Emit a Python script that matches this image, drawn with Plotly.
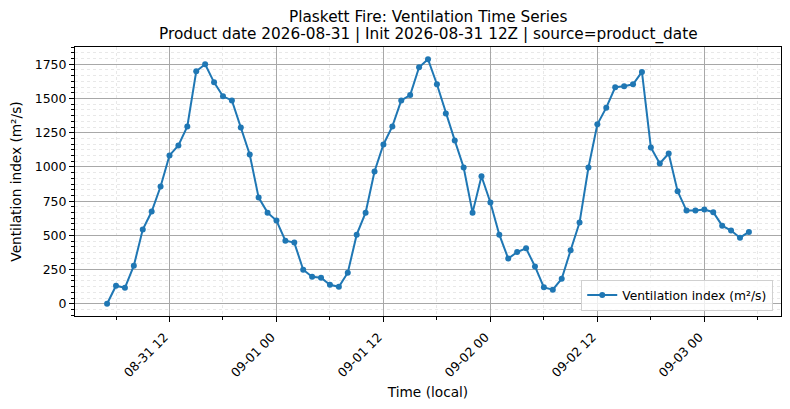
import pandas as pd
import plotly.graph_objects as go

# hourly ventilation index, 2026-08-31 05:00 to 2026-09-03 05:00 local
start = '2026-08-31 05:00'
vent = [0, 132, 117, 278, 542, 674, 857, 1084, 1157, 1296,
        1699, 1750, 1618, 1516, 1486, 1289, 1091, 776, 666, 608,
        461, 447, 249, 198, 190, 139, 124, 227, 505, 666,
        967, 1164, 1296, 1486, 1525, 1728, 1787, 1604, 1391, 1194,
        996, 666, 932, 740, 505, 330, 378, 405, 273, 120,
        103, 183, 391, 593, 996, 1311, 1433, 1582, 1589, 1604,
        1694, 1142, 1025, 1098, 823, 681, 681, 688, 669, 571,
        535, 483, 525]
times = pd.date_range(start, periods=len(vent), freq='h')

title1 = 'Plaskett Fire: Ventilation Time Series'
title2 = 'Product date 2026-08-31 | Init 2026-08-31 12Z | source=product_date'
series_name = 'Ventilation index (m²/s)'

blue = '#1f77b4'
font = 'DejaVu Sans'

fig = go.Figure()
fig.add_trace(go.Scatter(
    x=times, y=vent, mode='lines+markers', name=series_name,
    line=dict(color=blue, width=2),
    marker=dict(color=blue, size=6),
))

#matplotlib style 5% padding
span = max(vent) - min(vent)
y_lo = min(vent) - 0.05 * span
y_hi = max(vent) + 0.05 * span
pad = (times[-1] - times[0]) * 0.05
x_lo = times[0] - pad
x_hi = times[-1] + pad

# page has an 8px body margin, so margins are shifted to compensate
fig.update_layout(
    width=790, height=409,
    paper_bgcolor='white', plot_bgcolor='white',
    margin=dict(l=67, r=17, t=39, b=101, autoexpand=False),
    font=dict(family=font, size=12.5, color='black'),
    showlegend=True,
    legend=dict(x=0.989, y=0.02, xanchor='right', yanchor='bottom',
                bgcolor='rgba(255,255,255,0.8)', bordercolor='#d0d0d0',
                borderwidth=1, font=dict(size=12.3)),
)

# two-line title as annotations so nothing gets clipped
fig.add_annotation(text=title1, xref='paper', yref='paper', x=0.5, y=1.1115,
                   xanchor='center', yanchor='middle', showarrow=False,
                   font=dict(size=15.3))
fig.add_annotation(text=title2, xref='paper', yref='paper', x=0.5, y=1.0483,
                   xanchor='center', yanchor='middle', showarrow=False,
                   font=dict(size=15.3))

fig.update_xaxes(
    range=[x_lo, x_hi], type='date', automargin=False,
    tick0='2026-08-31 00:00', dtick=12 * 3600 * 1000,
    tickformat='%m-%d %H', tickangle=-45,
    ticklabelshift=-5, ticklabelstandoff=3,
    ticks='outside', ticklen=5, tickcolor='black',
    showline=True, linecolor='black', linewidth=1, mirror=True,
    showgrid=True, gridcolor='#a8a8a8', gridwidth=1,
    zeroline=False,
    minor=dict(dtick=6 * 3600 * 1000, tick0='2026-08-31 00:00',
               ticks='outside', ticklen=3, tickcolor='black',
               showgrid=True, gridcolor='#e8e8e8', griddash='dot', gridwidth=0.5),
    title=dict(text='Time (local)', font=dict(size=13.7), standoff=8),
)

fig.update_yaxes(
    range=[y_lo, y_hi], tick0=0, dtick=250, tickformat='d', automargin=False,
    ticks='outside', ticklen=5, tickcolor='black',
    showline=True, linecolor='black', linewidth=1, mirror=True,
    showgrid=True, gridcolor='#a8a8a8', gridwidth=1,
    zeroline=False,
    minor=dict(dtick=250 / 6, tick0=0, ticks='outside', ticklen=3,
               tickcolor='black', showgrid=True, gridcolor='#e8e8e8',
               griddash='dot', gridwidth=0.5),
    title=dict(text=series_name, font=dict(size=13.7), standoff=10),
)

fig.write_html('out.html')
